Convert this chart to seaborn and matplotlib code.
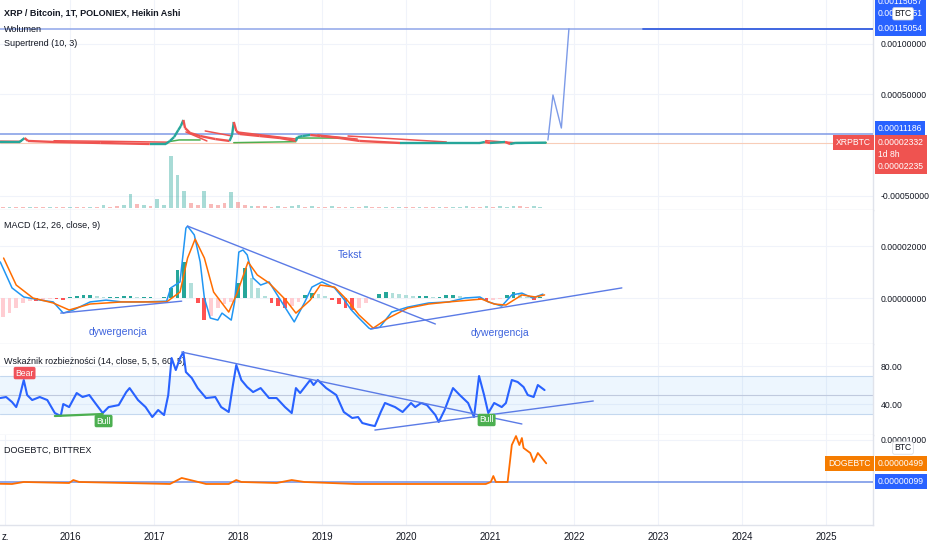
import numpy as np
import matplotlib
matplotlib.use("Agg")
import matplotlib.pyplot as plt
import seaborn as sns

sns.set_theme(style="white")
plt.rcParams['font.family'] = ['Liberation Sans Narrow', 'Liberation Sans', 'DejaVu Sans']
plt.rcParams['axes.unicode_minus'] = False

# ----------------------------
# data (x in decimal years)
# ----------------------------

# XRP/BTC price, micro-BTC
price_x = [2015.17, 2015.40, 2015.46, 2015.50, 2015.81, 2016.36, 2016.95, 2017.14, 2017.19, 2017.24,
           2017.29, 2017.32, 2017.35, 2017.37, 2017.43, 2017.55, 2017.73, 2017.90, 2017.93, 2017.95,
           2017.98, 2018.02, 2018.26, 2018.50, 2018.69, 2018.71, 2018.77, 2018.86, 2018.98, 2019.21,
           2019.45, 2019.93, 2020.88, 2020.94, 2021.00, 2021.18, 2021.24, 2021.30, 2021.67]
price_v = [30, 30, 69, 40, 30, 20, 10, 10, 40, 79,
           149, 188, 248, 168, 119, 89, 59, 40, 99, 228,
           139, 109, 89, 69, 40, 79, 89, 99, 89, 69,
           40, 20, 20, 30, 20, 30, 10, 20, 23]

# Supertrend (10, 3), nan = break
st_dn_x = [2015.17, 2015.42, np.nan, 2015.81, 2016.50, 2017.17, np.nan, 2017.38, 2017.63, np.nan,
           2017.61, 2017.93, np.nan, 2017.99, 2018.69, np.nan, 2018.95, 2019.42, np.nan,
           2019.31, 2020.48, np.nan, 2020.95, 2021.29]
st_dn_v = [38, 36, np.nan, 42, 36, 28, np.nan, 129, 40, np.nan,
           139, 89, np.nan, 129, 59, np.nan, 99, 59, np.nan,
           89, 30, np.nan, 43, 23]
st_up_x = [2017.19, 2017.30, 2017.55, np.nan, 2017.95, 2018.69, np.nan, 2018.69, 2019.25, np.nan, 2021.29, 2021.67]
st_up_v = [35, 50, 50, np.nan, 23, 33, np.nan, 69, 69, np.nan, 23, 23]

# Wolumen (relative), 1 = up bar
vol_h = [1, 1, 1, 1, 1, 1, 1, 1, 1, 1, 1, 1, 1, 1, 1, 3, 1, 2, 3, 14,
         4, 3, 2, 9, 3, 51, 33, 17, 5, 3, 17, 4, 3, 5, 16, 6, 3, 2, 2, 2,
         1, 2, 1, 2, 3, 1, 2, 1, 1, 2, 1, 1, 1, 1, 2, 1, 1, 1, 1, 1,
         1, 1, 1, 1, 1, 1, 1, 1, 1, 2, 1, 1, 2, 1, 2, 1, 2, 2, 1, 2, 1]
vol_up = [0, 1, 0, 0, 1, 0, 0, 1, 0, 0, 1, 0, 0, 1, 0, 1, 0, 0, 1, 1,
          0, 1, 0, 1, 1, 1, 1, 1, 0, 0, 1, 0, 0, 0, 1, 0, 0, 1, 0, 0,
          0, 1, 0, 1, 1, 0, 1, 0, 0, 1, 0, 0, 1, 0, 1, 0, 0, 1, 0, 1,
          0, 0, 1, 0, 0, 1, 0, 1, 1, 1, 0, 0, 1, 0, 1, 1, 1, 0, 0, 1, 1]

# MACD (12, 26, close, 9), micro-BTC
macd_x = [2015.17, 2015.31, 2015.45, 2015.65, 2015.80, 2015.92, 2016.04, 2016.24, 2016.43, 2016.62,
          2016.87, 2017.15, 2017.20, 2017.31, 2017.38, 2017.40, 2017.48, 2017.55, 2017.60, 2017.67,
          2017.76, 2017.81, 2017.92, 2017.96, 2018.01, 2018.06, 2018.11, 2018.18, 2018.27, 2018.37,
          2018.52, 2018.67, 2018.79, 2018.88, 2019.00, 2019.15, 2019.25, 2019.35, 2019.44, 2019.56,
          2019.58, 2019.69, 2019.83, 2020.02, 2020.27, 2020.51, 2020.70, 2020.88, 2020.98, 2021.14,
          2021.26, 2021.38, 2021.51, 2021.63]
macd_v = [13.9, 3.9, 0.4, -0.8, -1.5, -5.8, -4.6, -1.5, -0.8, -1.5,
          -1.5, -1.2, 3.9, 6.2, 26.9, 27.7, 24.3, 13.9, 0.0, -7.7,
          -8.5, -5.8, -8.5, -1.5, 17.7, 18.5, 16.6, 7.7, 5.0, 6.2,
          -1.5, -9.2, -1.9, 4.2, 6.2, 3.9, 0.0, -4.6, -7.7, -11.6,
          -11.9, -11.2, -5.4, -3.5, -1.9, -1.5, 0.0, 0.4, -1.5, -3.1,
          1.2, 1.9, 0.0, 1.5]
sig_x = [2015.21, 2015.36, 2015.56, 2015.80, 2015.99, 2016.24, 2016.62, 2017.15, 2017.31, 2017.40,
         2017.49, 2017.60, 2017.71, 2017.89, 2017.99, 2018.12, 2018.23, 2018.37, 2018.57, 2018.69,
         2018.86, 2018.98, 2019.15, 2019.30, 2019.44, 2019.61, 2019.79, 2020.02, 2020.27, 2020.51,
         2020.90, 2021.05, 2021.19, 2021.38, 2021.54, 2021.65]
sig_v = [15.4, 5.0, 0.0, -1.9, -4.6, -2.3, -1.5, -1.5, 2.3, 15.4,
         22.7, 15.4, 2.3, -5.4, 1.9, 13.9, 8.9, 5.8, -0.8, -5.8,
         -0.8, 5.0, 4.2, -0.8, -6.5, -11.6, -7.7, -3.9, -2.3, -1.5,
         -0.4, -2.3, -2.7, 1.2, 0.4, 1.2]
hist_v = [-7.3, -5.8, -3.9, -1.9, -1.2, -1.2, -0.8, -0.4, -0.4, -0.8,
          0.4, 0.8, 1.2, 1.2, 0.8, 0.4, 0.4, 0.4, 0.8, 0.8,
          0.4, 0.4, 0.4, 0.2, 0.4, 3.9, 10.8, 13.9, 5.8, -1.9,
          -8.5, -6.9, -3.9, -2.3, -1.5, 5.8, 11.6, 7.7, 3.9, 0.8,
          -1.9, -3.1, -3.9, -3.1, -1.5, 1.2, 1.9, 1.5, 0.8, -0.8,
          -2.3, -3.9, -4.6, -3.9, -1.9, -0.8, 1.5, 2.3, 1.9, 1.5,
          1.2, 0.8, 0.8, 0.8, 0.4, 0.4, 1.2, 1.2, 0.8, 0.4,
          0.4, -0.4, -1.2, -0.8, -0.4, 1.2, 2.3, 1.5, 0.4, -0.8, 0.4]

# Wskaznik rozbieznosci (14, close, 5, 5, 60, 5)
div_x = [2015.17, 2015.24, 2015.31, 2015.36, 2015.40, 2015.45, 2015.49, 2015.55, 2015.64, 2015.73,
         2015.82, 2015.89, 2015.92, 2015.99, 2016.08, 2016.15, 2016.23, 2016.30, 2016.39, 2016.46,
         2016.58, 2016.67, 2016.71, 2016.81, 2016.90, 2016.98, 2017.05, 2017.12, 2017.17, 2017.21,
         2017.26, 2017.31, 2017.35, 2017.38, 2017.45, 2017.52, 2017.62, 2017.73, 2017.80, 2017.89,
         2017.94, 2017.98, 2018.04, 2018.11, 2018.18, 2018.27, 2018.37, 2018.46, 2018.56, 2018.64,
         2018.69, 2018.74, 2018.86, 2018.90, 2018.95, 2019.05, 2019.17, 2019.26, 2019.36, 2019.43,
         2019.48, 2019.57, 2019.63, 2019.70, 2019.75, 2019.87, 2019.96, 2020.06, 2020.11, 2020.18,
         2020.25, 2020.35, 2020.39, 2020.46, 2020.56, 2020.64, 2020.74, 2020.81, 2020.87, 2020.93,
         2020.98, 2021.05, 2021.14, 2021.19, 2021.26, 2021.33, 2021.40, 2021.45, 2021.52, 2021.57,
         2021.65]
div_v = [46.3, 47.4, 42.1, 36.8, 47.4, 65.3, 49.5, 44.2, 47.4, 44.2,
         30.5, 27.4, 40.0, 36.8, 51.6, 47.4, 49.5, 41.1, 30.5, 36.8,
         38.9, 52.6, 56.8, 44.2, 36.8, 26.3, 33.7, 28.4, 49.5, 88.4,
         75.8, 88.4, 94.7, 73.7, 67.4, 56.8, 46.3, 47.4, 36.8, 31.6,
         60.0, 81.1, 65.3, 57.9, 52.6, 56.8, 46.3, 46.3, 36.8, 30.5,
         56.8, 51.6, 65.3, 60.0, 65.3, 56.8, 49.5, 31.6, 25.3, 26.3,
         20.0, 17.9, 16.8, 31.6, 41.1, 36.8, 31.6, 41.1, 36.8, 41.1,
         38.9, 28.4, 21.1, 33.7, 56.8, 49.5, 41.1, 26.3, 69.5, 49.5,
         30.5, 41.1, 36.8, 41.1, 65.3, 63.2, 57.9, 49.5, 47.4, 60.0,
         54.7]

# DOGEBTC, satoshi
doge_x = [2015.17, 2015.31, 2015.45, 2015.99, 2016.04, 2016.11, 2017.19, 2017.33, 2017.48, 2017.62,
          2017.89, 2017.98, 2018.04, 2018.46, 2018.64, 2018.79, 2019.40, 2020.95, 2021.01, 2021.04,
          2021.07, 2021.21, 2021.24, 2021.26, 2021.31, 2021.35, 2021.38, 2021.40, 2021.48, 2021.52,
          2021.57, 2021.62, 2021.67]
doge_v = [60, 56, 99, 77, 141, 99, 56, 185, 120, 56,
          56, 141, 99, 77, 141, 99, 56, 56, 99, 227,
          99, 99, 570, 892, 1085, 892, 1042, 828, 721, 528,
          721, 613, 499]

# drawings
draw_x = [2021.69, 2021.75, 2021.85, 2021.94]
draw_v = [49.5, 495, 168, 1150.54]
level_top, level_low, last_xrp = 1150.54, 111.86, 23.32
macd_lines = [((2015.89, 2017.33), (-5.8, -1.2)),
              ((2017.40, 2020.35), (27.7, -10.0)),
              ((2019.58, 2022.57), (-11.9, 3.9))]
div_lines = [((2017.33, 2021.38), (94.7, 19.0)),
             ((2019.63, 2022.23), (12.6, 43.2))]
bull_line = ((2015.82, 2016.39), (27.4, 29.5))
doge_level = 99

years = list(range(2016, 2026))

# ----------------------------
# layout
# ----------------------------
W, H, PR = 932, 550, 873
X0, X1 = 2015.167, 2025.56
TXT, GRID, SEP = '#131722', '#f0f3fa', '#e0e3eb'
BLUE, DRAW = '#2962ff', '#5b7be6'
UP, DN = '#26a69a', '#ef5350'
FS_AX = 6.2   # right scale text
FS_LB = 6.5   # pane titles

fig = plt.figure(figsize=(W / 100, H / 100), dpi=100)
fig.patch.set_facecolor('white')


def make_panel(top, bottom, ylim):
    ax = fig.add_axes([0, 1 - bottom / H, PR / W, (bottom - top) / H])
    ax.set_xlim(X0, X1)
    ax.set_ylim(*ylim)
    for s in ('top', 'left'):
        ax.spines[s].set_visible(False)
    for s in ('bottom', 'right'):
        ax.spines[s].set_color(SEP)
        ax.spines[s].set_linewidth(1)
    ax.set_xticks(years)
    ax.grid(True, color=GRID, lw=0.8)
    ax.set_axisbelow(True)
    return ax


def right_scale(ax, ticks, labels):
    ax.yaxis.tick_right()
    ax.yaxis.set_label_position('right')
    ax.set_yticks(ticks)
    ax.set_yticklabels(labels)
    ax.tick_params(axis='x', length=0, labelbottom=False)
    ax.tick_params(axis='y', length=0, pad=5.5, labelsize=FS_AX, labelcolor=TXT,
                   labelleft=False, labelright=True)


def panel_label(ax, text, dy_px, bold=False):
    ax.annotate(text, xy=(0, 1), xycoords='axes fraction', xytext=(3, -dy_px * 0.72),
                textcoords='offset points', ha='left', va='center', fontsize=FS_LB, color=TXT,
                fontweight='bold' if bold else 'normal')


def axis_box(ax, y, text, fc, dy_px=0, va='center', tc='white', right=False, **kw):
    ax.annotate(text, xy=(1, y), xycoords=ax.get_yaxis_transform(),
                xytext=(-1.7 if right else 3.6, dy_px * 0.72), textcoords='offset points',
                ha='right' if right else 'left', va=va, fontsize=FS_AX, color=tc,
                bbox=dict(boxstyle='square,pad=0.35', fc=fc, ec='none'),
                annotation_clip=False, zorder=10, **kw)


def btc_tag(ax, y, dy_px):
    ax.annotate('BTC', xy=(1, y), xycoords=ax.get_yaxis_transform(), xytext=(21.6, dy_px * 0.72),
                textcoords='offset points', ha='center', va='center', fontsize=6.2, color=TXT,
                bbox=dict(boxstyle='round,pad=0.2', fc='white', ec='#d1d4dc', lw=0.5),
                annotation_clip=False, zorder=11)


# ---- panel 1: XRP/BTC + volume + supertrend
ax1 = make_panel(0, 210, (-643.5, 1435.5))
axv = ax1.twinx()
axv.set_ylim(-2, 206)
axv.set_yticks([])
axv.tick_params(length=0, labelbottom=False, labelright=False)
axv.grid(False)
for s in axv.spines.values():
    s.set_visible(False)
right_scale(ax1, [1000, 500, -500], ['0.00100000', '0.00050000', '-0.00050000'])
vol_x = 2015.2 + 0.08 * np.arange(len(vol_h))
axv.bar(vol_x, vol_h, width=0.045, color=[UP if u else DN for u in vol_up], alpha=0.4, lw=0)

ax1.axhline(last_xrp, color='#f8cdb8', lw=0.8, zorder=2)
ax1.axhline(level_low, color='#7f9ae6', lw=1.1, zorder=3)
ax1.axhline(level_top, color='#8fa6ea', lw=1.1, zorder=3)
ax1.plot([2022.82, X1], [level_top, level_top], color='#3a62e0', lw=1.3, zorder=3)
ax1.plot(st_dn_x, st_dn_v, color=DN, lw=1.1, zorder=4)
ax1.plot(st_up_x, st_up_v, color='#4caf50', lw=1.1, zorder=4)
for i in range(len(price_x) - 1):
    c = UP if price_v[i + 1] >= price_v[i] else DN
    ax1.plot(price_x[i:i + 2], price_v[i:i + 2], color=c, lw=1.7, zorder=5, solid_capstyle='butt')
sns.lineplot(x=draw_x, y=draw_v, ax=ax1, color='#7d9be8', lw=1.0, sort=False, estimator=None, zorder=6)
ax1.set_xlabel('')
ax1.set_ylabel('')

panel_label(ax1, 'XRP / Bitcoin, 1T, POLONIEX, Heikin Ashi', 13, bold=True)
panel_label(ax1, 'Wolumen', 29)
panel_label(ax1, 'Supertrend (10, 3)', 44)

axis_box(ax1, level_top, '0.00115057', BLUE, dy_px=27)
axis_box(ax1, level_top, '0.00115051', BLUE, dy_px=15)
btc_tag(ax1, level_top, 15)
axis_box(ax1, level_top, '0.00115054', BLUE)
axis_box(ax1, level_low, '0.00011186', BLUE, dy_px=5.5)
axis_box(ax1, last_xrp, '0.00002332\n1d 8h\n0.00002235', DN, dy_px=5, va='top', linespacing=1.45)
axis_box(ax1, last_xrp, 'XRPBTC', DN, right=True)

# ---- panel 2: MACD
ax2 = make_panel(210, 344, (-17.7, 33.9))
right_scale(ax2, [20, 0], ['0.00002000', '0.00000000'])
hist_x = 2015.2 + 0.08 * np.arange(len(hist_v))
hist_c = []
for i, v in enumerate(hist_v):
    prev = hist_v[i - 1] if i else 1.5 * v
    if v >= 0:
        hist_c.append('#26a69a' if v >= prev else '#b2dfdb')
    else:
        hist_c.append('#ff5252' if v <= prev else '#ffcdd2')
ax2.bar(hist_x, hist_v, width=0.045, color=hist_c, lw=0, zorder=2)
sns.lineplot(x=macd_x, y=macd_v, ax=ax2, color='#2196f3', lw=1.1, sort=False, estimator=None, zorder=4)
sns.lineplot(x=sig_x, y=sig_v, ax=ax2, color='#ff6d00', lw=1.1, sort=False, estimator=None, zorder=4)
for lx, ly in macd_lines:
    ax2.plot(lx, ly, color=DRAW, lw=1.0, zorder=5)
ax2.text(2016.57, -13.1, 'dywergencja', color='#3d63dd', fontsize=7.5, ha='center', va='center')
ax2.text(2019.33, 16.6, 'Tekst', color='#3d63dd', fontsize=7.5, ha='center', va='center')
ax2.text(2021.12, -13.5, 'dywergencja', color='#3d63dd', fontsize=7.5, ha='center', va='center')
ax2.set_xlabel('')
ax2.set_ylabel('')
panel_label(ax2, 'MACD (12, 26, close, 9)', 16)

# ---- panel 3: divergence indicator
ax3 = make_panel(344, 435, (7.4, 103.2))
right_scale(ax3, [80, 40], ['80.00', '40.00'])
ax3.axhspan(30, 70, color='#2196f3', alpha=0.08, lw=0, zorder=1)
for lvl, c in ((70, '#c4d8ef'), (50, '#c0cade'), (30, '#c4d8ef')):
    ax3.axhline(lvl, color=c, lw=0.8, zorder=1)
sns.lineplot(x=div_x, y=div_v, ax=ax3, color='#2962ff', lw=1.5, sort=False, estimator=None, zorder=4)
ax3.plot(*bull_line, color='#4caf50', lw=1.6, zorder=5)
for lx, ly in div_lines:
    ax3.plot(lx, ly, color=DRAW, lw=1.0, zorder=5)
for x, y, t, c in ((2015.46, 72.6, 'Bear', '#f0525a'), (2016.40, 22.1, 'Bull', '#4caf50'),
                   (2020.96, 23.2, 'Bull', '#4caf50')):
    ax3.text(x, y, t, color='white', fontsize=6.2, ha='center', va='center', zorder=7,
             bbox=dict(boxstyle='round,pad=0.2', fc=c, ec='none'))
ax3.set_xlabel('')
ax3.set_ylabel('')
panel_label(ax3, 'Wskaźnik rozbieżności (14, close, 5, 5, 60, 5)', 17)

# ---- panel 4: DOGEBTC
ax4 = make_panel(435, 525, (-824, 1107))
right_scale(ax4, [1000], ['0.00001000'])
ax4.axhline(doge_level, color='#6f8fe6', lw=1.1, zorder=3)
sns.lineplot(x=doge_x, y=doge_v, ax=ax4, color='#ff6d00', lw=1.3, sort=False, estimator=None, zorder=4)
ax4.set_xlabel('')
ax4.set_ylabel('')
panel_label(ax4, 'DOGEBTC, BITTREX', 15)
btc_tag(ax4, 1000, -8)
axis_box(ax4, 499, '0.00000499', '#f57c00')
axis_box(ax4, 499, 'DOGEBTC', '#f57c00', right=True)
axis_box(ax4, doge_level, '0.00000099', BLUE)

ax4.set_xticks([2015.23] + years)
ax4.set_xticklabels(['z.'] + [str(y) for y in years])
ax4.tick_params(axis='x', labelbottom=True, labelsize=7, labelcolor=TXT, pad=5)

fig.savefig('out.png', dpi=100, facecolor='white')
